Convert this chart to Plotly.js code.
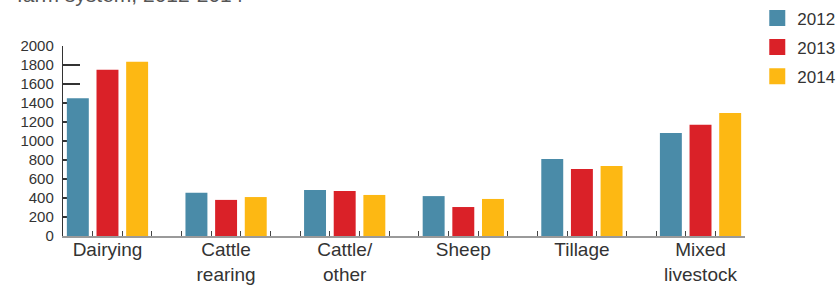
<!DOCTYPE html>
<html>
<head>
<meta charset="utf-8">
<script src="https://cdn.plot.ly/plotly-3.0.1.min.js"></script>
<style>html,body{margin:0;padding:0;background:#fff;}#chart{width:837px;height:286px;}</style>
</head>
<body>
<div id="chart"></div>
<script>
// Data
const categories = ["Dairying", "Cattle<br>rearing", "Cattle/<br>other", "Sheep", "Tillage", "Mixed<br>livestock"];
const years = ["2012", "2013", "2014"];
const values2012 = [1450, 455, 485, 420, 810, 1085];
const values2013 = [1750, 380, 475, 305, 705, 1170];
const values2014 = [1835, 410, 432, 390, 737, 1295];
const yTickVals = [0, 200, 400, 600, 800, 1000, 1200, 1400, 1600, 1800, 2000];
const chartTitle = "farm system, 2012-2014";

const colors = ["#4A8BA8", "#DA2128", "#FDB813"];
const series = [values2012, values2013, values2014];

const traces = [];
series.forEach((vals, i) => {
  traces.push({
    type: "bar", x: categories, y: vals, name: years[i],
    marker: {color: colors[i]}, showlegend: false, hoverinfo: "x+y"
  });
});
series.forEach((vals, i) => {
  traces.push({
    type: "scatter", mode: "markers", x: [null], y: [null], xaxis: "x2",
    name: years[i], legendgroup: years[i], showlegend: true,
    marker: {symbol: "square", size: 17, color: colors[i]}
  });
});

const font = "Liberation Sans, Arial, sans-serif";
const nSlots = categories.length * 4 - 1;
const slotTicks = [];
for (let i = 0; i <= nSlots; i++) slotTicks.push(i);

const layout = {
  width: 837, height: 286,
  margin: {l: 63, r: 92, t: 46, b: 50, autoexpand: false},
  paper_bgcolor: "#fff", plot_bgcolor: "#fff",
  font: {family: font, color: "#333"},
  barmode: "group", bargap: 0.25, bargroupgap: 0.26,
  xaxis: {
    type: "category", range: [-0.375, categories.length - 0.625],
    showline: true, linecolor: "#9a9a9a", linewidth: 2,
    ticks: "", showgrid: false, zeroline: false,
    tickfont: {size: 19, color: "#333", family: font},
    ticklabelstandoff: -5, fixedrange: true
  },
  xaxis2: {
    overlaying: "x", anchor: "y", side: "bottom",
    range: [0, nSlots], tickmode: "array", tickvals: slotTicks,
    ticks: "inside", ticklen: 5, tickwidth: 1, tickcolor: "#444",
    showticklabels: false, showgrid: false, zeroline: false, showline: false
  },
  yaxis: {
    range: [0, 2000], tickmode: "array", tickvals: yTickVals,
    ticks: "inside", ticklen: 17, tickwidth: 1.2, tickcolor: "#333",
    showline: true, linecolor: "#333", linewidth: 1.2,
    showgrid: false, zeroline: false, layer: "below traces",
    tickfont: {size: 15, color: "#333", family: font},
    ticklabelstandoff: 5
  },
  legend: {
    x: 1.018, xanchor: "left", y: 1.24, yanchor: "top",
    font: {size: 17, color: "#333", family: font},
    tracegroupgap: 4, bgcolor: "rgba(0,0,0,0)"
  },
  annotations: [{
    text: chartTitle, xref: "paper", yref: "paper", x: 0, y: 1,
    xanchor: "left", yanchor: "middle", xshift: -48, yshift: 52,
    showarrow: false, font: {size: 21, color: "#555", family: font}
  }]
};

Plotly.newPlot("chart", traces, layout, {displayModeBar: false, staticPlot: true});
</script>
</body>
</html>
